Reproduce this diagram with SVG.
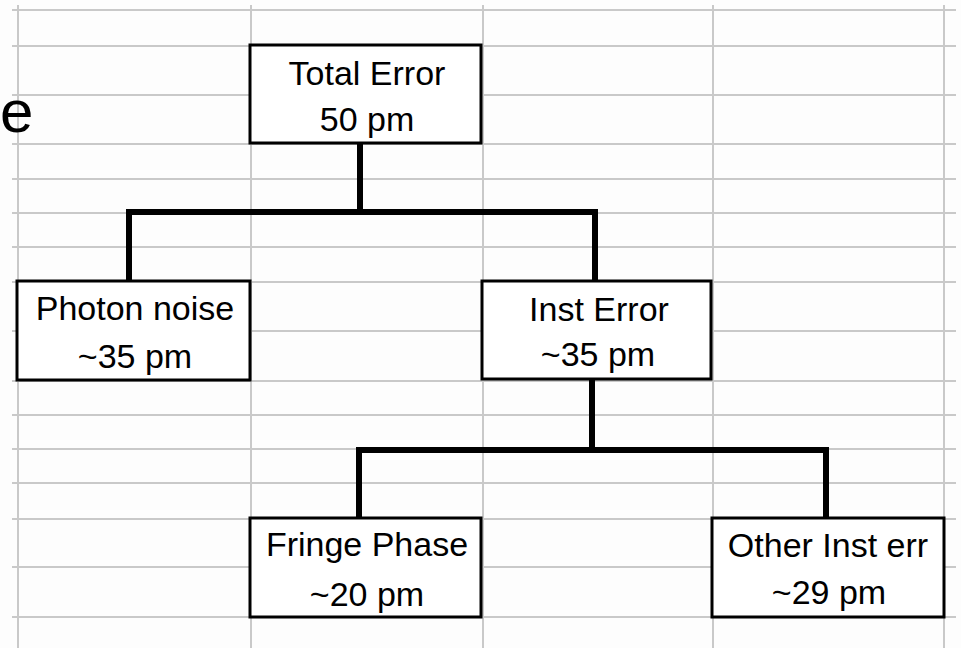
<svg xmlns="http://www.w3.org/2000/svg" width="961" height="648" viewBox="0 0 961 648">
  <style>
    .grid line { stroke: #c9c9c9; stroke-width: 2; }
    .box { fill: #ffffff; stroke: #000000; stroke-width: 3; }
    .lbl { font-family: "Liberation Sans", Arial, sans-serif; font-size: 34px; fill: #000000; text-anchor: middle; }
    .wire { fill: none; stroke: #000000; stroke-width: 6; stroke-linejoin: miter; stroke-linecap: butt; }
  </style>

  <rect x="0" y="0" width="961" height="648" fill="#fdfdfd"/>

  <!-- spreadsheet grid -->
  <g class="grid">
    <line x1="12" y1="10" x2="956" y2="10"/>
    <line x1="12" y1="46" x2="956" y2="46"/>
    <line x1="12" y1="95" x2="956" y2="95"/>
    <line x1="12" y1="144" x2="956" y2="144"/>
    <line x1="12" y1="179" x2="956" y2="179"/>
    <line x1="12" y1="213" x2="956" y2="213"/>
    <line x1="12" y1="247" x2="956" y2="247"/>
    <line x1="12" y1="282" x2="956" y2="282"/>
    <line x1="12" y1="331" x2="956" y2="331"/>
    <line x1="12" y1="381" x2="956" y2="381"/>
    <line x1="12" y1="415" x2="956" y2="415"/>
    <line x1="12" y1="449" x2="956" y2="449"/>
    <line x1="12" y1="483" x2="956" y2="483"/>
    <line x1="12" y1="519" x2="956" y2="519"/>
    <line x1="12" y1="567" x2="956" y2="567"/>
    <line x1="12" y1="617" x2="956" y2="617"/>
    <line x1="18" y1="5" x2="18" y2="648"/>
    <line x1="251" y1="5" x2="251" y2="648"/>
    <line x1="483" y1="5" x2="483" y2="648"/>
    <line x1="713" y1="5" x2="713" y2="648"/>
    <line x1="944" y1="5" x2="944" y2="648"/>
  </g>

  <!-- large letter at the left edge -->
  <text x="0" y="132" font-family="Liberation Sans, Arial, sans-serif" font-size="60" fill="#000000">e</text>

  <!-- tree connectors -->
  <g id="connectors">
    <path class="wire" d="M360,143 V212"/>
    <path class="wire" d="M129,281 V212 H595 V281"/>
    <path class="wire" d="M592,379 V450"/>
    <path class="wire" d="M359,518 V450 H826 V518"/>
  </g>

  <g id="total-error">
    <rect class="box" x="250" y="45" width="231" height="98"/>
    <text class="lbl" x="367" y="85">Total Error</text>
    <text class="lbl" x="367" y="131">50 pm</text>
  </g>

  <g id="photon-noise">
    <rect class="box" x="17" y="281" width="233" height="99"/>
    <text class="lbl" x="135" y="320">Photon noise</text>
    <text class="lbl" x="135" y="368">~35 pm</text>
  </g>

  <g id="inst-error">
    <rect class="box" x="482" y="281" width="229" height="98"/>
    <text class="lbl" x="599" y="321">Inst Error</text>
    <text class="lbl" x="598" y="366">~35 pm</text>
  </g>

  <g id="fringe-phase">
    <rect class="box" x="250" y="518" width="231" height="99"/>
    <text class="lbl" x="367" y="556">Fringe Phase</text>
    <text class="lbl" x="367" y="606">~20 pm</text>
  </g>

  <g id="other-inst-err">
    <rect class="box" x="712" y="518" width="232" height="99"/>
    <text class="lbl" x="828" y="557">Other Inst err</text>
    <text class="lbl" x="829" y="604">~29 pm</text>
  </g>
</svg>
